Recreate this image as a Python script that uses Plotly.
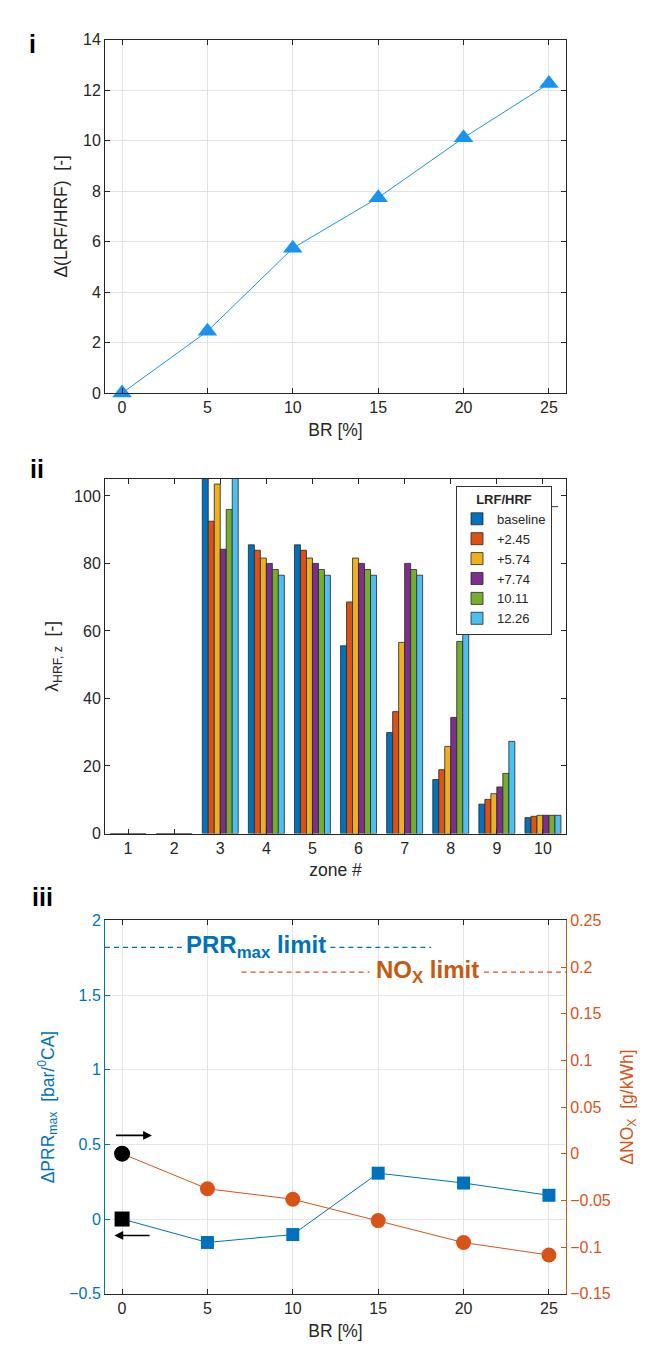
import plotly.graph_objects as go

# ---------------- data ----------------
br = [0, 5, 10, 15, 20, 25]
delta_lrf_hrf = [0, 2.45, 5.74, 7.74, 10.11, 12.26]

zones = [1, 2, 3, 4, 5, 6, 7, 8, 9, 10]
series_names = ["baseline", "+2.45", "+5.74", "+7.74", "10.11", "12.26"]
lam_baseline = [0, 0, 110, 85.5, 85.5, 55.6, 29.9, 16.0, 8.7, 4.7]
lam_245 = [0, 0, 92.5, 83.9, 83.9, 68.6, 36.1, 18.9, 10.1, 5.1]
lam_574 = [0, 0, 103.5, 81.6, 81.6, 81.6, 56.6, 25.8, 11.8, 5.4]
lam_774 = [0, 0, 84.2, 80.0, 80.0, 80.0, 80.0, 34.4, 13.8, 5.4]
lam_1011 = [0, 0, 96.0, 78.2, 78.2, 78.2, 78.2, 56.9, 17.8, 5.4]
lam_1226 = [0, 0, 110, 76.5, 76.5, 76.5, 76.5, 76.5, 27.3, 5.4]

prr = [0, -0.157, -0.104, 0.307, 0.241, 0.159]
nox = [0, -0.0376, -0.0488, -0.0717, -0.0952, -0.1086]

prr_limit = 1.82
nox_limit = 0.1945

bar_colors = ["#0072BD", "#D95319", "#EDB120", "#7E2F8E", "#77AC30", "#4DBEEE"]
BLUE = "#0072BD"
ORANGE = "#D95319"
TRI = "#1A93F0"
TXT = "#262626"
FONT = "Liberation Sans, Arial, sans-serif"

W, H = 648, 1356
def px_x(p):
    return p / W
def px_y(p):
    return 1 - p / H

fig = go.Figure()

# ---------------- panel i ----------------
fig.add_trace(go.Scatter(x=br, y=delta_lrf_hrf, mode="lines+markers",
                         line=dict(color=TRI, width=1),
                         marker=dict(symbol="triangle-up", size=17, color=TRI,
                                     line=dict(color=TRI, width=0)),
                         xaxis="x", yaxis="y", showlegend=False, cliponaxis=False))

# ---------------- panel ii ----------------
lam_all = [lam_baseline, lam_245, lam_574, lam_774, lam_1011, lam_1226]
for name, vals, col in zip(series_names, lam_all, bar_colors):
    fig.add_trace(go.Bar(x=zones, y=vals, name=name, marker=dict(color=col,
                         line=dict(color="#262626", width=0.8)),
                         xaxis="x2", yaxis="y2", showlegend=True))

# ---------------- panel iii ----------------
fig.add_trace(go.Scatter(x=br, y=prr, mode="lines+markers",
                         line=dict(color=BLUE, width=1),
                         marker=dict(symbol="square", size=13, color=BLUE),
                         xaxis="x3", yaxis="y3", showlegend=False))
fig.add_trace(go.Scatter(x=br, y=nox, mode="lines+markers",
                         line=dict(color=ORANGE, width=1),
                         marker=dict(symbol="circle", size=15, color=ORANGE),
                         xaxis="x3", yaxis="y4", showlegend=False))
fig.add_trace(go.Scatter(x=[br[0]], y=[prr[0]], mode="markers",
                         marker=dict(symbol="square", size=15, color="black"),
                         xaxis="x3", yaxis="y3", showlegend=False))
fig.add_trace(go.Scatter(x=[br[0]], y=[nox[0]], mode="markers",
                         marker=dict(symbol="circle", size=16, color="black"),
                         xaxis="x3", yaxis="y4", showlegend=False))

# limit lines (dashed segments with gaps for labels)
dash = "5px,4px"
for x0, x1 in [(-1, 3.5), (12.2, 18.1)]:
    fig.add_shape(type="line", xref="x3", yref="y3", x0=x0, x1=x1,
                  y0=prr_limit, y1=prr_limit, line=dict(color=BLUE, width=1.2, dash=dash))
for x0, x1 in [(7.0, 14.5), (21.2, 26)]:
    fig.add_shape(type="line", xref="x3", yref="y4", x0=x0, x1=x1,
                  y0=nox_limit, y1=nox_limit, line=dict(color=ORANGE, width=1.2, dash=dash))

# legend title separator
fig.add_shape(type="line", xref="paper", yref="paper", x0=px_x(456), x1=px_x(558),
              y0=px_y(505), y1=px_y(505), line=dict(color="#333333", width=1))

annotations = [
    dict(text="<b>PRR<sub>max</sub> limit</b>", xref="x3", yref="y3", x=7.85, y=prr_limit,
         showarrow=False, font=dict(size=24, color=BLUE, family=FONT), yshift=1),
    dict(text="<b>NO<sub>X</sub> limit</b>", xref="x3", yref="y4", x=17.9, y=nox_limit,
         showarrow=False, font=dict(size=24, color="#C55A11", family=FONT), yshift=1),
    # arrows
    dict(text="", xref="x3", yref="y3", axref="x3", ayref="y3",
         x=1.75, y=0.56, ax=-0.45, ay=0.56, showarrow=True,
         arrowhead=2, arrowsize=1.1, arrowwidth=1.6, arrowcolor="black"),
    dict(text="", xref="x3", yref="y3", axref="x3", ayref="y3",
         x=-0.45, y=-0.11, ax=1.7, ay=-0.11, showarrow=True,
         arrowhead=2, arrowsize=1.1, arrowwidth=1.6, arrowcolor="black"),
    # panel labels
    dict(text="<b>i</b>", xref="paper", yref="paper", x=px_x(27), y=px_y(20),
         showarrow=False, font=dict(size=25, color="black", family=FONT)),
    dict(text="<b>ii</b>", xref="paper", yref="paper", x=px_x(28), y=px_y(467),
         showarrow=False, font=dict(size=25, color="black", family=FONT)),
    dict(text="<b>iii</b>", xref="paper", yref="paper", x=px_x(30), y=px_y(916),
         showarrow=False, font=dict(size=25, color="black", family=FONT)),
]

tickfont = dict(size=16, color=TXT, family=FONT)
titlefont = dict(size=17.5, color=TXT, family=FONT)
GRID = "#e3e3e3"

def box_axis(**kw):
    d = dict(showline=True, linecolor=TXT, linewidth=1, mirror="ticks",
             ticks="inside", ticklen=5, tickcolor=TXT, tickfont=tickfont,
             zeroline=False)
    d.update(kw)
    return d

xd = [px_x(105), px_x(566)]

fig.update_layout(
    width=W, height=H, paper_bgcolor="white", plot_bgcolor="white",
    margin=dict(l=0, r=0, t=0, b=0),
    font=dict(family=FONT, color=TXT),
    barmode="group", bargap=0.22, bargroupgap=0,
    xaxis=box_axis(domain=xd, anchor="y", range=[-1, 26], tickvals=br,
                   showgrid=True, gridcolor=GRID,
                   title=dict(text="BR [%]", font=titlefont, standoff=8)),
    yaxis=box_axis(domain=[px_y(390), px_y(32)], anchor="x", range=[0, 14],
                   dtick=2, showgrid=True, gridcolor=GRID,
                   title=dict(text="Δ(LRF/HRF)  [-]", font=titlefont, standoff=10)),
    xaxis2=box_axis(domain=xd, anchor="y2", range=[0.5, 10.5], tickvals=zones,
                    showgrid=False,
                    title=dict(text="zone #", font=titlefont, standoff=8)),
    yaxis2=box_axis(domain=[px_y(836), px_y(477)], anchor="x2", range=[0, 105],
                    dtick=20, showgrid=False,
                    title=dict(text="λ<sub>HRF, z</sub>  [-]", font=titlefont, standoff=10)),
    xaxis3=dict(domain=xd, anchor="y3", range=[-1, 26], tickvals=br,
                showline=True, linecolor=TXT, linewidth=1, mirror="ticks",
                ticks="inside", ticklen=5, tickcolor=TXT, tickfont=tickfont,
                showgrid=True, gridcolor=GRID, zeroline=False,
                title=dict(text="BR [%]", font=titlefont, standoff=8)),
    yaxis3=dict(domain=[px_y(1302), px_y(924)], anchor="x3", range=[-0.5, 2],
                dtick=0.5, showline=True, linecolor=BLUE, linewidth=1,
                ticks="inside", ticklen=5, tickcolor=BLUE,
                tickfont=dict(size=16, color=BLUE, family=FONT),
                showgrid=True, gridcolor="#dde8f2", zeroline=False,
                title=dict(text="ΔPRR<sub>max</sub>  [bar/<sup>0</sup>CA]",
                           font=dict(size=17.5, color=BLUE, family=FONT), standoff=10)),
    yaxis4=dict(overlaying="y3", side="right", anchor="x3", range=[-0.15, 0.25],
                dtick=0.05, showline=True, linecolor=ORANGE, linewidth=1,
                ticks="inside", ticklen=5, tickcolor=ORANGE,
                tickfont=dict(size=16, color=ORANGE, family=FONT),
                showgrid=False, zeroline=False,
                title=dict(text="ΔNO<sub>X</sub>  [g/kWh]",
                           font=dict(size=17.5, color=ORANGE, family=FONT), standoff=10)),
    legend=dict(x=px_x(456), y=px_y(484), xanchor="left", yanchor="top",
                bgcolor="white", bordercolor="#333333", borderwidth=1,
                font=dict(size=13, color=TXT, family=FONT),
                title=dict(text="<b>LRF/HRF</b>", side="top center",
                           font=dict(size=13, color=TXT, family=FONT)),
                tracegroupgap=0, itemwidth=30),
    annotations=annotations,
)

fig.write_html("out.html", config={"displayModeBar": False},
               post_script="document.body.style.margin='0';document.body.style.overflow='hidden';")
